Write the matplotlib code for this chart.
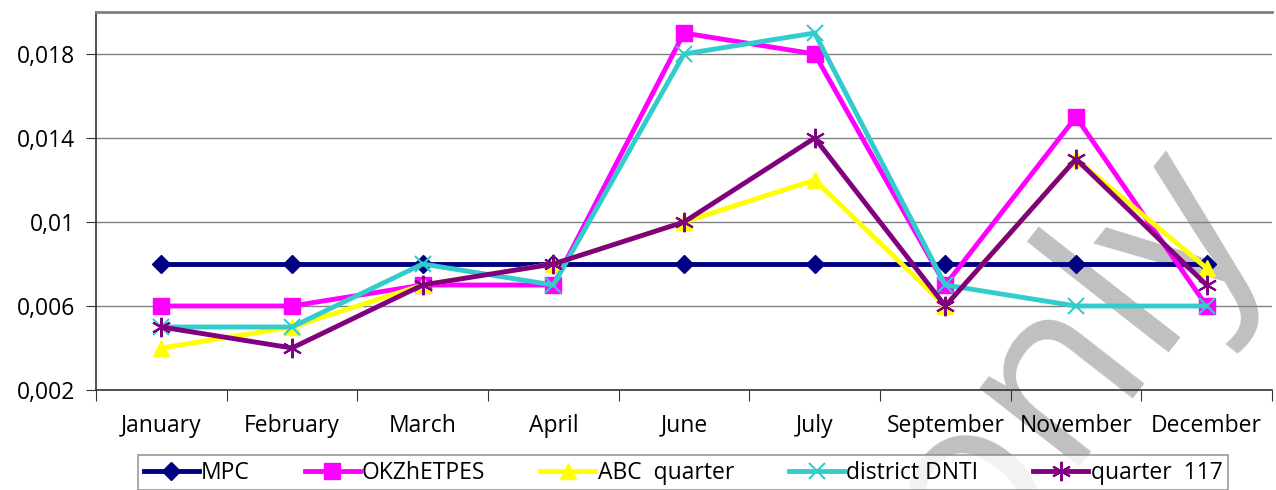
import matplotlib.pyplot as plt
from matplotlib.ticker import FuncFormatter

months = ['January', 'February', 'March', 'April', 'June', 'July',
          'September', 'November', 'December']
mpc = [0.008, 0.008, 0.008, 0.008, 0.008, 0.008, 0.008, 0.008, 0.008]
okzh = [0.006, 0.006, 0.007, 0.007, 0.019, 0.018, 0.007, 0.015, 0.006]
abc = [0.004, 0.005, 0.007, 0.008, 0.010, 0.012, 0.006, 0.013, 0.0078]
dnti = [0.005, 0.005, 0.008, 0.007, 0.018, 0.019, 0.007, 0.006, 0.006]
q117 = [0.005, 0.004, 0.007, 0.008, 0.010, 0.014, 0.006, 0.013, 0.007]
yticks = [0.002, 0.006, 0.010, 0.014, 0.018]

plt.rcParams['font.family'] = ['Open Sans', 'DejaVu Sans']

fig = plt.figure(figsize=(12.76, 4.9), dpi=100)
ax = fig.add_axes([96/1276, 1-390/490, 1176/1276, 378/490])
ax.patch.set_alpha(0)

x = range(len(months))
ax.plot(x, mpc, color='#000080', lw=3.5, marker='D', ms=9, label='MPC', zorder=3)
ax.plot(x, okzh, color='#FF00FF', lw=3.5, marker='s', ms=12, label='OKZhETPES', zorder=3)
ax.plot(x, abc, color='#FFFF00', lw=3.5, marker='^', ms=12, label='ABC  quarter', zorder=3)
ax.plot(x, dnti, color='#33CCCC', lw=3.5, marker='x', ms=12, mew=1.5,
        label='district DNTI', zorder=3)
ax.plot(x, q117, color='#800080', lw=3.5, marker=(6, 2, 0), ms=14, mew=1.5,
        label='quarter  117', zorder=3)

ax.set_xlim(-0.5, 8.5)
ax.set_ylim(0.002, 0.02)
ax.set_yticks(yticks)
ax.yaxis.set_major_formatter(FuncFormatter(lambda v, p: ('%g' % v).replace('.', ',')))
ax.set_xticks([i + 0.5 for i in range(-1, 9)])
ax.set_xticklabels([])
ax.set_xticks(list(x), minor=True)
ax.set_xticklabels(months, minor=True)
ax.tick_params(axis='x', which='minor', length=0, pad=17, labelsize=16.5)
ax.tick_params(axis='x', which='major', length=8, direction='out', color='#333333')
ax.tick_params(axis='y', length=7, labelsize=16.5, color='#333333', pad=8)
ax.grid(axis='y', color='#808080', lw=1)
ax.set_axisbelow(True)
for s in ['left', 'bottom']:
    ax.spines[s].set_color('#333333')
    ax.spines[s].set_linewidth(1.2)
ax.spines['top'].set_color('#808080')
ax.spines['top'].set_linewidth(2)
ax.spines['right'].set_visible(False)

leg = fig.legend(loc='upper center', bbox_to_anchor=(683/1276, 1-455/490),
                 ncol=5, fontsize=16.5, frameon=True, fancybox=False,
                 edgecolor='#808080', handlelength=2.4, handletextpad=0.1,
                 columnspacing=2.4, borderpad=0.25, borderaxespad=0)
leg.get_frame().set_linewidth(1.2)

# watermark behind the lines, partly outside the picture as in the reference
fig.text(1070/1276, 1-362/490, 'only', fontsize=170, color='#c0c0c0',
         rotation=52, ha='center', va='center', zorder=-1)

plt.savefig('out.png', dpi=100)
